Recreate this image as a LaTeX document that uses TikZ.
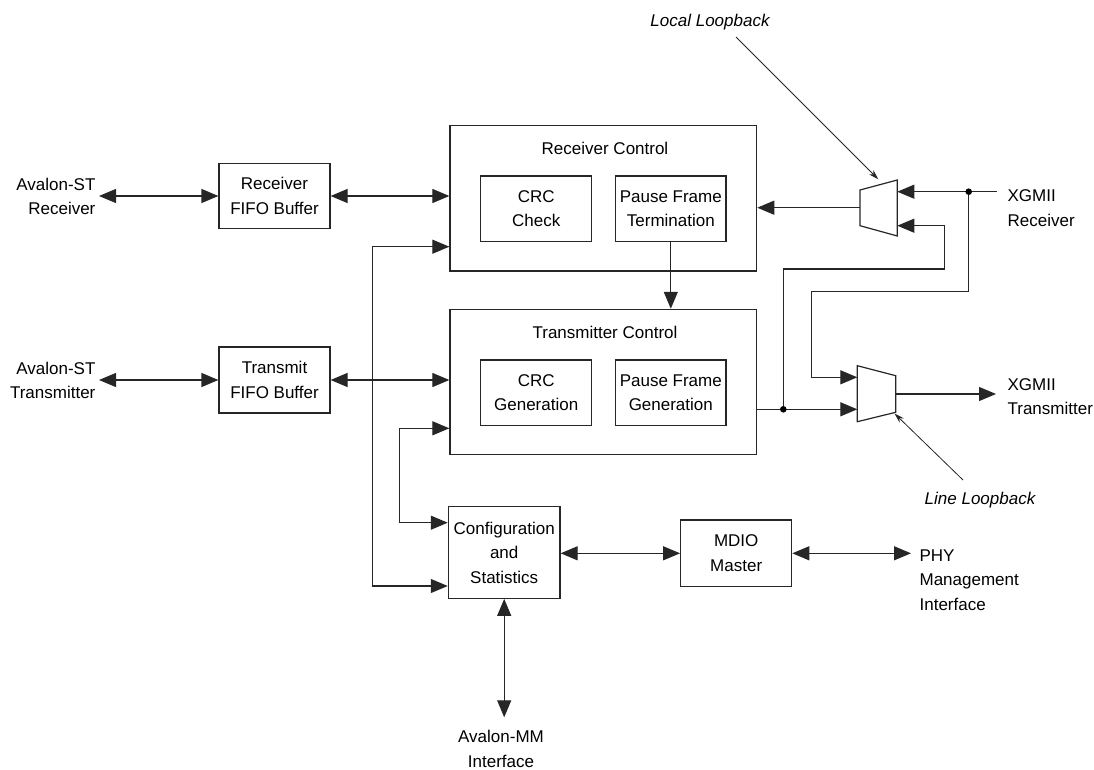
\documentclass[tikz,border=0pt]{standalone}
\usepackage{fontspec}
\setmainfont{Liberation Sans}
\usetikzlibrary{arrows.meta}
\newcommand{\lblfont}{\fontsize{17}{24.5}\selectfont}
\begin{document}
\begin{tikzpicture}[x=1pt,y=-1pt,
  line width=1.2pt, draw=black!85,
  >={Triangle[length=17pt,width=14pt]},
  box/.style={draw=black!85, align=center, inner sep=0pt, font=\lblfont},
  lbl/.style={align=center, inner sep=0pt, font=\lblfont},
  note/.style={inner sep=0pt, font=\lblfont\itshape},
  pointer/.style={line width=0.8pt, -{Stealth[length=10pt,width=6pt]}},
  junction/.style={fill=black}
]
\useasboundingbox (0,0) rectangle (1094,770);

% blocks
\node[box, minimum width=111pt, minimum height=65.6pt] (rxfifo) at (274.5,196) {Receiver\\FIFO Buffer};
\node[box, minimum width=111pt, minimum height=66pt] (txfifo) at (274.5,380) {Transmit\\FIFO Buffer};
\node[box, minimum width=306.7pt, minimum height=145.3pt] (rxctrl) at (603.3,198.3) {};
\node[box, minimum width=306.7pt, minimum height=145.3pt] (txctrl) at (603.3,382) {};
\node[lbl] (rxtitle) at (605,148.3) {Receiver Control};
\node[lbl] (txtitle) at (605,332.3) {Transmitter Control};
\node[box, minimum width=111pt, minimum height=65.7pt] (crcchk) at (536.2,208.8) {CRC\\Check};
\node[box, minimum width=110.3pt, minimum height=65.7pt] (pft) at (670.8,208.8) {Pause Frame\\Termination};
\node[box, minimum width=111pt, minimum height=65.7pt] (crcgen) at (536.2,392.8) {CRC\\Generation};
\node[box, minimum width=110.3pt, minimum height=65.7pt] (pfg) at (670.8,392.8) {Pause Frame\\Generation};
\node[box, minimum width=111.7pt, minimum height=91.6pt] (cfg) at (504.2,552.5) {Configuration\\and\\Statistics};
\node[box, minimum width=111pt, minimum height=66.7pt] (mdio) at (736.2,553.3) {MDIO\\Master};

% external labels
\node[lbl, align=right, anchor=east] (avrx) at (96,196.5) {Avalon-ST\\Receiver};
\node[lbl, align=right, anchor=east] (avtx) at (96,380.5) {Avalon-ST\\Transmitter};
\node[lbl, align=left, anchor=west] (xgrx) at (1007,208.3) {XGMII\\Receiver};
\node[lbl, align=left, anchor=west] (xgtx) at (1007,396.7) {XGMII\\Transmitter};
\node[lbl, align=left, anchor=west] (phy) at (919,580) {PHY\\Management\\Interface};
\node[lbl] (avmm) at (501,749) {Avalon-MM\\Interface};
\node[note] (locallb) at (710,22) {Local Loopback};
\node[note] (linelb) at (980,500) {Line Loopback};

% multiplexers
\coordinate (m1out) at (860,207.7);
\coordinate (m1in1) at (897.3,191.7);
\coordinate (m1in2) at (897.3,225.7);
\draw (860,190) -- (897.3,180) -- (897.3,236) -- (860,225.7) -- cycle;
\coordinate (m2in1) at (857.3,377.3);
\coordinate (m2in2) at (857.3,409.3);
\coordinate (m2out) at (895.7,394);
\draw (857.3,365.7) -- (895.7,375.7) -- (895.7,412.3) -- (857.3,421.7) -- cycle;

% helper coordinates
\coordinate (yA) at (0,246.7);
\coordinate (yB) at (0,586);
\coordinate (yC) at (0,428.3);
\coordinate (yD) at (0,522.7);
\coordinate (yE) at (0,717.3);
\coordinate (busA) at (372.7,586);
\coordinate (busB) at (399.3,522.7);
\coordinate (dotA) at (968.7,191.7);
\coordinate (dotB) at (783.3,409.3);
\coordinate (loopA) at (811.7,291.7);
\coordinate (loopB) at (944.7,269);
\coordinate (llA) at (736,37);
\coordinate (llB) at (878.3,179.3);
\coordinate (lnA) at (963,480);
\coordinate (lnB) at (894.5,413.5);

% connectors
\draw[<->] ([xshift=3pt]avrx.east |- rxfifo.west) -- (rxfifo.west);
\draw[<->] ([xshift=3pt]avtx.east |- txfifo.west) -- (txfifo.west);
\draw[<->] (rxfifo.east) -- (rxctrl.west |- rxfifo.east);
\draw[<->] (txfifo.east) -- (txctrl.west |- txfifo.east);
\draw[<->] (rxctrl.west |- yA) -| (busA) -- (cfg.west |- yB);
\draw[<->] (txctrl.west |- yC) -| (busB) -- (cfg.west |- yD);
\draw[->] (pft.south) -- (pft.south |- txctrl.north);
\draw[<->] (cfg.east |- mdio.west) -- (mdio.west);
\draw[<->] (mdio.east) -- ([xshift=-8pt]phy.west |- mdio.east);
\draw[<->] (cfg.south) -- (cfg.south |- yE);

\draw (dotA) -- ([xshift=-10pt]xgrx.west |- dotA);
\draw[->] (dotA) -- (m1in1);
\draw[->] (m1out) -- (rxctrl.east |- m1out);
\draw[->] (dotA) |- (loopA) |- (m2in1);
\draw[->] (txctrl.east |- m2in2) -- (m2in2);
\draw[->] (dotB) |- (loopB) |- (m1in2);
\draw[->] (m2out) -- ([xshift=-11pt]xgtx.west |- m2out);
\fill[junction] (dotA) circle (3.3pt);
\fill[junction] (dotB) circle (3.3pt);

\draw[pointer] (llA) -- (llB);
\draw[pointer] (lnA) -- (lnB);
\end{tikzpicture}
\end{document}
